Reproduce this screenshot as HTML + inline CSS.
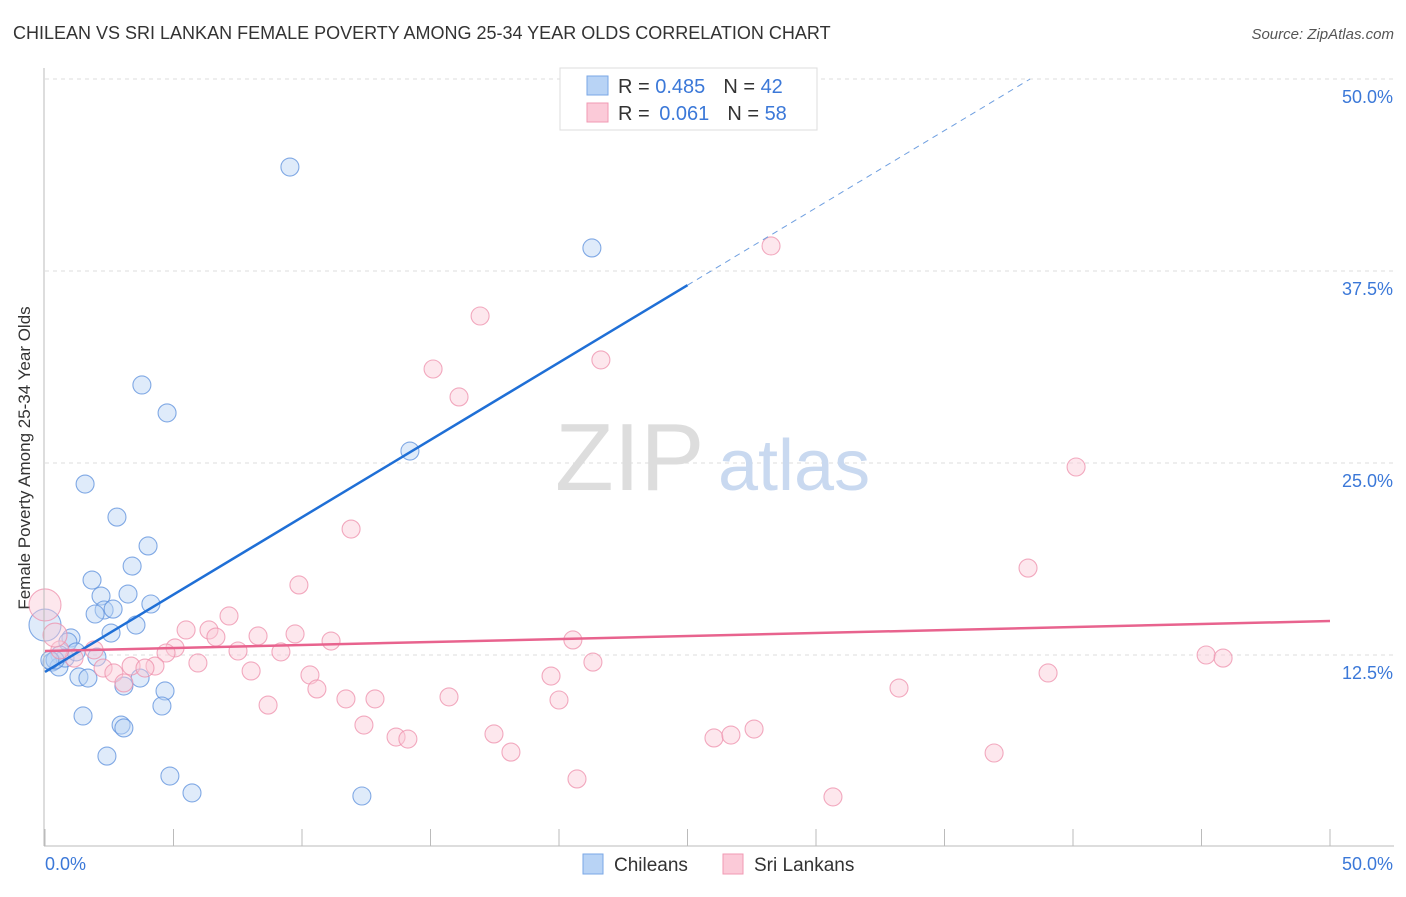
<!DOCTYPE html>
<html><head><meta charset="utf-8"><style>
body{margin:0;background:#fff;font-family:"Liberation Sans",sans-serif;}
svg text{font-family:"Liberation Sans",sans-serif;}
</style></head><body>
<svg id="chart" width="1406" height="892" xmlns="http://www.w3.org/2000/svg">
<text x="13" y="39" font-size="18" fill="#333">CHILEAN VS SRI LANKAN FEMALE POVERTY AMONG 25-34 YEAR OLDS CORRELATION CHART</text>
<text x="1394" y="39" font-size="15" fill="#555" font-style="italic" text-anchor="end">Source: ZipAtlas.com</text>
<text x="30" y="458" font-size="17" fill="#333" text-anchor="middle" transform="rotate(-90 30 458)">Female Poverty Among 25-34 Year Olds</text>
<g id="grid"></g>
<g><text x="555" y="490" font-size="96" fill="#ddd" font-family="Liberation Serif">ZIP</text><text x="718" y="490" font-size="72" fill="#c9d9f0">atlas</text></g>
<g id="pts"></g>
<g id="lines"></g>
<g id="axes"></g>
<g>
<rect x="560" y="68" width="257" height="62" fill="#fff" stroke="#ddd"/>
<rect x="587" y="76" width="21" height="19" fill="#b8d3f5" stroke="#7aa7e6"/>
<text x="618" y="93" font-size="20" fill="#333">R = <tspan fill="#3b78d8">0.485</tspan><tspan dx="18">N = </tspan><tspan fill="#3b78d8">42</tspan></text>
<rect x="587" y="103" width="21" height="19" fill="#fbcad8" stroke="#f09ab3"/>
<text x="618" y="120" font-size="20" fill="#333">R = <tspan dx="4" fill="#3b78d8">0.061</tspan><tspan dx="18">N = </tspan><tspan fill="#3b78d8">58</tspan></text>
</g>
<g>
<rect x="583" y="854" width="20" height="20" fill="#b8d3f5" stroke="#7aa7e6"/>
<text x="614" y="871" font-size="19" fill="#333">Chileans</text>
<rect x="723" y="854" width="20" height="20" fill="#fbcad8" stroke="#f09ab3"/>
<text x="754" y="871" font-size="19" fill="#333">Sri Lankans</text>
</g>
</svg>
<script>
const yTicks=[12.5,25,37.5,50];
const yTickLabels=["12.5%","25.0%","37.5%","50.0%"];
const xTickLabels=["0.0%","50.0%"];
const blueX=[9.53,21.28,3.77,4.75,14.2,1.56,2.8,4.01,3.39,1.83,2.18,3.23,2.3,2.65,1.95,4.12,3.54,2.57,1.01,0.89,0.58,0.27,0.54,0.78,1.21,2.02,1.32,1.67,3.07,3.7,4.67,4.55,1.48,2.96,3.07,2.41,4.86,5.72,12.33,0,0.39,0.19];
const blueY=[44.27,39.0,30.08,28.26,25.78,23.63,21.48,19.6,18.29,17.38,16.34,16.47,15.43,15.49,15.17,15.82,14.45,13.93,13.61,13.35,12.5,12.04,11.72,12.3,12.7,12.37,11.07,11.0,10.48,11.0,10.16,9.18,8.53,7.94,7.75,5.92,4.62,3.52,3.32,14.45,12.17,12.17];
const blueBig=[39];
const pinkX=[28.25,16.93,21.63,15.1,16.11,40.12,11.91,9.88,38.25,7.16,5.49,6.38,6.65,8.29,9.73,11.13,20.54,5.06,4.71,7.51,9.18,45.18,45.84,21.32,5.95,3.35,4.28,3.89,8.02,10.31,19.69,39.03,2.26,2.68,1.91,1.13,0.58,10.58,3.07,33.23,11.71,12.84,15.72,20.0,8.68,12.41,17.47,13.66,14.12,26.03,26.69,27.59,18.13,36.93,20.7,30.66,0,0.39];
const pinkY=[39.13,34.57,31.71,31.12,29.3,24.74,20.7,17.06,18.16,15.04,14.13,14.13,13.67,13.74,13.87,13.41,13.48,12.96,12.63,12.76,12.7,12.5,12.3,12.04,11.98,11.78,11.78,11.65,11.46,11.2,11.13,11.33,11.65,11.33,12.83,12.3,12.83,10.29,10.68,10.35,9.64,9.64,9.77,9.57,9.24,7.94,7.36,7.16,7.03,7.1,7.29,7.68,6.18,6.12,4.43,3.26,15.76,13.8];
const pinkBig=[56,57];
const blueLine=[11.4,1.007];
const pinkLine=[12.76,0.039];
const NS="http://www.w3.org/2000/svg";
const X=v=>45+v*25.7, Y=v=>847-v*15.36;
function mk(t,a,p){const e=document.createElementNS(NS,t);for(const k in a)e.setAttribute(k,a[k]);p.appendChild(e);return e;}
const grid=document.getElementById('grid'),axes=document.getElementById('axes'),pts=document.getElementById('pts'),lines=document.getElementById('lines');
yTicks.forEach((t,i)=>{
 const l=mk('line',{x1:45,x2:1394,y1:Y(t),y2:Y(t),stroke:'#ddd','stroke-dasharray':'4,4'},grid);
 
 
 const tx=mk('text',{x:1393,y:Y(t)+24,'font-size':18,fill:'#3b78d8','text-anchor':'end'},axes);
 tx.textContent=yTickLabels[i];
 
 
});
const ya=mk('line',{x1:44,x2:44,y1:68,y2:846,stroke:'#bbb'},axes);


const xa=mk('line',{x1:44,x2:1394,y1:846,y2:846,stroke:'#bbb'},axes);


for(let i=0;i<=10;i++){const tk=mk('line',{x1:X(i*5),x2:X(i*5),y1:829,y2:846,stroke:'#bbb'},axes);
 
 }
[[0,45,'start'],[50,1393,'end']].forEach((d,i)=>{const tx=mk('text',{x:d[1],y:870,'font-size':18,fill:'#3b78d8','text-anchor':d[2]},axes);tx.textContent=xTickLabels[i];
 
 });
function dots(xs,ys,big,fill,stroke,name){xs.forEach((x,i)=>{const r=big.includes(i)?(i===xs.length-1&&name==='pink-point'?12:16):9;
 const c=mk('circle',{cx:X(x),cy:Y(ys[i]),r:r,fill:fill,'fill-opacity':0.45,stroke:stroke,'stroke-width':1.1,'stroke-opacity':0.75},pts);
 
 });}
dots(blueX,blueY,blueBig,'#b8d3f5','#5b8fdc','blue-point');
dots(pinkX,pinkY,pinkBig,'#fbcad8','#ee8fab','pink-point');
const f=(L,x)=>L[0]+L[1]*x;
const bs=mk('line',{x1:X(0),y1:Y(f(blueLine,0)),x2:X(25),y2:Y(f(blueLine,25)),stroke:'#1f6fd6','stroke-width':2.5},lines);


const xe=(50-blueLine[0])/blueLine[1];
const bd=mk('line',{x1:X(25),y1:Y(f(blueLine,25)),x2:X(xe),y2:Y(50),stroke:'#6f9fe0','stroke-width':1,'stroke-dasharray':'6,5'},lines);


const pl=mk('line',{x1:X(0),y1:Y(f(pinkLine,0)),x2:X(50),y2:Y(f(pinkLine,50)),stroke:'#e8638e','stroke-width':2.5},lines);


</script>
</body></html>
